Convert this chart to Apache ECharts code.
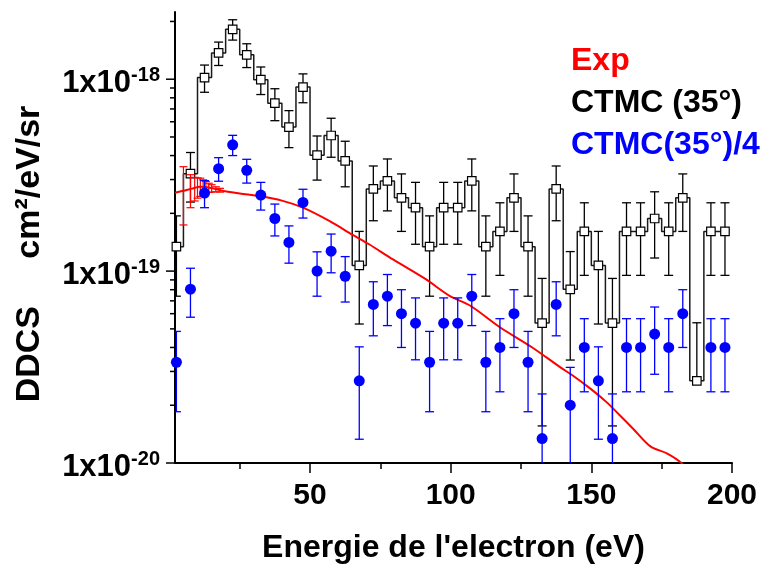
<!DOCTYPE html>
<html>
<head>
<meta charset="utf-8">
<title>DDCS</title>
<script src="https://cdn.jsdelivr.net/npm/echarts@6/dist/echarts.min.js"></script>
<style>
html, body { margin: 0; padding: 0; background: #fff; }
#main { width: 766px; height: 569px; }
</style>
</head>
<body>
<div id="main"></div>
<script>
// energie des electrons (eV), pas de 5 eV
var energy = [2.5, 7.5, 12.5, 17.5, 22.5, 27.5, 32.5, 37.5, 42.5, 47.5,
	52.5, 57.5, 62.5, 67.5, 72.5, 77.5, 82.5, 87.5, 92.5, 97.5,
	102.5, 107.5, 112.5, 117.5, 122.5, 127.5, 132.5, 137.5, 142.5, 147.5,
	152.5, 157.5, 162.5, 167.5, 172.5, 177.5, 182.5, 187.5, 192.5, 197.5];

// CTMC (35°)
var ctmc = [1.34e-19, 3.22e-19, 1.02e-18, 1.37e-18, 1.82e-18, 1.34e-18, 9.95e-19, 7.5e-19, 5.63e-19, 9.1e-19,
	4.02e-19, 5.09e-19, 3.75e-19, 1.07e-19, 2.68e-19, 2.95e-19, 2.41e-19, 2.14e-19, 1.34e-19, 2.14e-19,
	2.14e-19, 2.95e-19, 1.34e-19, 1.61e-19, 2.41e-19, 1.34e-19, 5.36e-20, 2.68e-19, 8.04e-20, 1.61e-19,
	1.07e-19, 5.36e-20, 1.61e-19, 1.61e-19, 1.88e-19, 1.61e-19, 2.41e-19, 2.68e-20, 1.61e-19, 1.61e-19];
var ctmcErr = [6.0e-20, 9.3e-20, 1.65e-19, 1.91e-19, 2.21e-19, 1.9e-19, 1.63e-19, 1.42e-19, 1.23e-19, 1.56e-19,
	1.04e-19, 1.17e-19, 1.0e-19, 5.4e-20, 8.5e-20, 8.9e-20, 8.0e-20, 7.6e-20, 6.0e-20, 7.6e-20,
	7.6e-20, 8.9e-20, 6.0e-20, 6.6e-20, 8.0e-20, 6.0e-20, 3.8e-20, 8.5e-20, 4.6e-20, 6.6e-20,
	5.4e-20, 3.8e-20, 6.6e-20, 6.6e-20, 7.1e-20, 6.6e-20, 8.0e-20, 2.7e-20, 6.6e-20, 6.6e-20];

// CTMC (35°)/4
var ctmc4 = [3.35e-20, 8.05e-20, 2.55e-19, 3.42e-19, 4.55e-19, 3.35e-19, 2.49e-19, 1.88e-19, 1.41e-19, 2.28e-19,
	1.0e-19, 1.27e-19, 9.4e-20, 2.68e-20, 6.7e-20, 7.4e-20, 6.0e-20, 5.35e-20, 3.35e-20, 5.35e-20,
	5.35e-20, 7.4e-20, 3.35e-20, 4.0e-20, 6.0e-20, 3.35e-20, 1.34e-20, 6.7e-20, 2.0e-20, 4.0e-20,
	2.68e-20, 1.34e-20, 4.0e-20, 4.0e-20, 4.7e-20, 4.0e-20, 6.0e-20, null, 4.0e-20, 4.0e-20];
var ctmc4Err = [1.5e-20, 2.3e-20, 4.1e-20, 4.8e-20, 5.5e-20, 4.75e-20, 4.1e-20, 3.55e-20, 3.1e-20, 3.9e-20,
	2.6e-20, 2.9e-20, 2.5e-20, 1.35e-20, 2.1e-20, 2.2e-20, 2.0e-20, 1.9e-20, 1.5e-20, 1.9e-20,
	1.9e-20, 2.2e-20, 1.5e-20, 1.65e-20, 2.0e-20, 1.5e-20, 9.5e-21, 2.1e-20, 1.15e-20, 1.65e-20,
	1.35e-20, 9.5e-21, 1.65e-20, 1.65e-20, 1.8e-20, 1.65e-20, 2.0e-20, null, 1.65e-20, 1.65e-20];

// experience
var expEnergy = [2, 5, 8, 11, 14, 18, 25, 32, 40, 47.5, 57, 65, 71, 79.5, 91, 99.6, 107, 117.5,
	129, 139, 143.5, 150, 155.5, 160, 165, 171, 177, 182, 186];
var expDdcs = [2.56e-19, 2.62e-19, 2.69e-19, 2.75e-19, 2.73e-19, 2.64e-19, 2.54e-19, 2.46e-19, 2.33e-19,
	2.14e-19, 1.82e-19, 1.55e-19, 1.38e-19, 1.15e-19, 9.1e-20, 7.43e-20, 6.6e-20, 5.1e-20,
	4.0e-20, 3.15e-20, 2.85e-20, 2.42e-20, 2.07e-20, 1.78e-20, 1.5e-20, 1.22e-20, 1.12e-20, 1.0e-20, 8.5e-21];
// barres d'erreur experimentales (basse energie)
var expBarEnergy = [5, 7.5, 9, 10, 11, 12, 13, 14, 15, 16.5, 18];
var expBarDdcs = [2.62e-19, 2.66e-19, 2.7e-19, 2.73e-19, 2.75e-19, 2.74e-19, 2.73e-19, 2.72e-19, 2.7e-19, 2.67e-19, 2.64e-19];
var expBarErr = [8.8e-20, 5.2e-20, 3.8e-20, 3.3e-20, 3.0e-20, 2.5e-20, 2.0e-20, 1.5e-20, 1.2e-20, 8e-21, 6e-21];

// graduations
var xMajorTicks = [50, 100, 150, 200];
var xMinorTicks = [25, 75, 125, 175];
var yMajorTicks = [1e-20, 1e-19, 1e-18];
var yMinorTicks = [2e-20, 3e-20, 4e-20, 5e-20, 6e-20, 7e-20, 8e-20, 9e-20,
	2e-19, 3e-19, 4e-19, 5e-19, 6e-19, 7e-19, 8e-19, 9e-19, 2e-18];

var FONT = '"Liberation Sans", Arial, sans-serif';

function zipErr(xs, ys, es) {
	var out = [];
	for (var i = 0; i < xs.length; i++) {
		if (ys[i] == null) continue;
		out.push([xs[i], ys[i], es[i]]);
	}
	return out;
}

// barre d'erreur verticale avec chapeaux
function errRender(color, capHalf, lw) {
	return function (params, api) {
		var x = api.value(0), v = api.value(1), e = api.value(2);
		var cs = params.coordSys;
		var bottom = cs.y + cs.height;
		var pc = api.coord([x, v]);
		var pHi = api.coord([x, v + e]);
		var yLo = pc[1], loCap = false;
		if (v - e > 0) {
			yLo = api.coord([x, v - e])[1];
			loCap = true;
			if (yLo > bottom) { yLo = bottom; loCap = false; }
		}
		var st = { stroke: color, lineWidth: lw };
		var ch = [
			{ type: 'line', shape: { x1: pc[0], y1: pHi[1], x2: pc[0], y2: yLo }, style: st },
			{ type: 'line', shape: { x1: pc[0] - capHalf, y1: pHi[1], x2: pc[0] + capHalf, y2: pHi[1] }, style: st }
		];
		if (loCap) {
			ch.push({ type: 'line', shape: { x1: pc[0] - capHalf, y1: yLo, x2: pc[0] + capHalf, y2: yLo }, style: st });
		}
		return { type: 'group', children: ch };
	};
}

var tickData = [];
yMajorTicks.forEach(function (v) { tickData.push([2, v, 1]); });
yMinorTicks.forEach(function (v) { tickData.push([2, v, 0]); });

var myChart = echarts.init(document.getElementById('main'));

var option = {
	animation: false,
	backgroundColor: '#fff',
	grid: { left: 175, right: 34, top: 12, bottom: 105 },
	legend: {
		orient: 'vertical',
		left: 561,
		top: 38,
		itemWidth: 0,
		itemHeight: 0,
		itemGap: 6,
		icon: 'none',
		selectedMode: false,
		textStyle: { fontSize: 32, fontWeight: 'bold', fontFamily: FONT, lineHeight: 36 },
		data: [
			{ name: 'Exp', textStyle: { color: '#ff0000' } },
			{ name: 'CTMC (35°)', textStyle: { color: '#000' } },
			{ name: 'CTMC(35°)/4', textStyle: { color: '#0000ff' } }
		]
	},
	graphic: [{
		type: 'text',
		x: 30,
		y: 254,
		rotation: Math.PI / 2,
		style: {
			text: 'DDCS     cm²/eV/sr',
			font: 'bold 34px ' + FONT,
			fill: '#000',
			align: 'center',
			verticalAlign: 'middle'
		}
	}],
	xAxis: [{
		type: 'value',
		min: 2,
		max: 200,
		name: "Energie de l'electron (eV)",
		nameLocation: 'middle',
		nameGap: 69,
		nameTextStyle: { fontSize: 32, fontWeight: 'bold', fontFamily: FONT, color: '#000' },
		axisLine: { lineStyle: { color: '#000', width: 2 } },
		axisTick: { customValues: xMajorTicks, length: 10, lineStyle: { color: '#000', width: 1.5 } },
		axisLabel: { customValues: xMajorTicks, margin: 18, fontSize: 30, fontWeight: 'bold', fontFamily: FONT, color: '#000' },
		splitLine: { show: false }
	}, {
		type: 'value',
		min: 2,
		max: 200,
		position: 'bottom',
		axisLine: { show: false },
		axisTick: { customValues: xMinorTicks, length: 6, lineStyle: { color: '#000', width: 1.5 } },
		axisLabel: { show: false },
		splitLine: { show: false }
	}],
	yAxis: {
		type: 'log',
		logBase: 10,
		min: 1e-20,
		max: 2.24e-18,
		axisLine: { show: true, lineStyle: { color: '#000', width: 2 } },
		axisTick: { show: false },
		splitLine: { show: false },
		axisLabel: {
			margin: 15,
			showMaxLabel: false,
			padding: [8, 0, 0, 0],
			formatter: function (val) {
				var p = Math.round(Math.log10(val));
				if (Math.abs(Math.log10(val) - p) > 1e-3) return '';
				return '{b|1x10}{s|' + p + '}';
			},
			rich: {
				b: { fontSize: 31, fontWeight: 'bold', fontFamily: FONT, color: '#000', lineHeight: 36 },
				s: { fontSize: 20, fontWeight: 'bold', fontFamily: FONT, color: '#000', lineHeight: 17, verticalAlign: 'top' }
			}
		}
	},
	series: [{
		// graduations de l'axe log
		type: 'custom',
		silent: true,
		clip: false,
		data: tickData,
		renderItem: function (params, api) {
			var cs = params.coordSys;
			var y = api.coord([api.value(0), api.value(1)])[1];
			var len = api.value(2) ? 9 : 5;
			return {
				type: 'line',
				shape: { x1: cs.x - len, y1: y, x2: cs.x, y2: y },
				style: { stroke: '#000', lineWidth: 1.5 }
			};
		},
		z: 1
	}, {
		name: 'CTMC (35°)',
		type: 'custom',
		data: zipErr(energy, ctmc, ctmcErr),
		renderItem: errRender('#000', 4.5, 1.3),
		clip: true,
		z: 1
	}, {
		name: 'CTMC (35°)',
		type: 'line',
		step: 'middle',
		data: energy.map(function (x, i) { return [x, ctmc[i]]; }),
		symbol: 'rect',
		symbolSize: 8.5,
		showAllSymbol: true,
		lineStyle: { color: '#1a1a1a', width: 1.5 },
		itemStyle: { color: '#fff', borderColor: '#000', borderWidth: 1.2 },
		z: 2
	}, {
		name: 'Exp',
		type: 'line',
		data: expEnergy.map(function (x, i) { return [x, expDdcs[i]]; }),
		symbol: 'none',
		smooth: 0.3,
		clip: true,
		lineStyle: { color: '#ff0000', width: 2 },
		itemStyle: { color: '#ff0000' },
		z: 3
	}, {
		name: 'Exp',
		type: 'custom',
		data: zipErr(expBarEnergy, expBarDdcs, expBarErr),
		renderItem: errRender('#ff0000', 4, 1.2),
		clip: true,
		z: 3
	}, {
		name: 'CTMC(35°)/4',
		type: 'custom',
		data: zipErr(energy, ctmc4, ctmc4Err),
		renderItem: errRender('#0000ff', 4.5, 1.3),
		clip: true,
		z: 4
	}, {
		name: 'CTMC(35°)/4',
		type: 'line',
		data: energy.map(function (x, i) { return [x, ctmc4[i] == null ? '-' : ctmc4[i]]; }),
		symbol: 'circle',
		symbolSize: 11,
		showAllSymbol: true,
		lineStyle: { width: 0, opacity: 0 },
		itemStyle: { color: '#0000ff' },
		z: 5
	}]
};

myChart.setOption(option);
</script>
</body>
</html>
